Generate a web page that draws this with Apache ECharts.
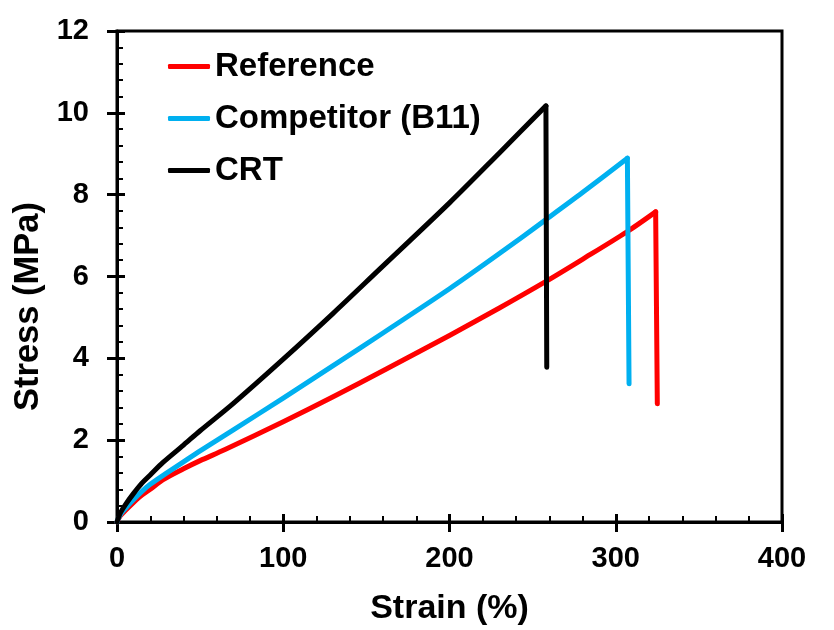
<!DOCTYPE html>
<html>
<head>
<meta charset="utf-8">
<script src="https://cdn.jsdelivr.net/npm/echarts@6/dist/echarts.min.js"></script>
<style>
html,body{margin:0;padding:0;background:#fff;}
#chart{width:834px;height:630px;}
</style>
</head>
<body>
<div id="chart"></div>
<script>
// ---- data ----
const seriesNames = ['Reference', 'Competitor (B11)', 'CRT'];
const seriesColors = ['#FF0000', '#00B0F0', '#000000'];

// last point of each curve = bottom of the fracture drop
const refStrain = [0, 2, 5, 10, 15, 20, 27.5, 40, 50, 65, 100, 130, 162, 200, 230, 258, 280, 307, 324, 325];
const refStress = [0, 0.15, 0.28, 0.48, 0.66, 0.8, 1.03, 1.3, 1.5, 1.77, 2.45, 3.06, 3.74, 4.56, 5.23, 5.88, 6.42, 7.1, 7.58, 2.89];

const compStrain = [0, 2, 5, 10, 15, 20, 30, 40, 50, 70, 100, 130, 160, 200, 230, 258, 280, 307, 308];
const compStress = [0, 0.18, 0.33, 0.55, 0.75, 0.92, 1.2, 1.47, 1.74, 2.25, 3.03, 3.82, 4.62, 5.7, 6.56, 7.39, 8.05, 8.89, 3.38];

const crtStrain = [0, 2, 5, 10, 15, 20, 27.5, 40, 50, 70, 100, 130, 158, 200, 230, 258, 258.5];
const crtStress = [0, 0.22, 0.42, 0.7, 0.95, 1.15, 1.45, 1.88, 2.23, 2.9, 3.98, 5.1, 6.18, 7.8, 9.02, 10.17, 3.78];

const xTicks = {min: 0, max: 400, interval: 100};
const yTicks = {min: 0, max: 12, interval: 2};

function pairs(xs, ys) { return xs.map((x, i) => [x, ys[i]]); }
const allData = [pairs(refStrain, refStress), pairs(compStrain, compStress), pairs(crtStrain, crtStress)];

const FONT = '"Liberation Sans", Arial, sans-serif';
const chart = echarts.init(document.getElementById('chart'), null, {renderer: 'canvas'});

const axisLineStyle = {show: true, lineStyle: {color: '#000', width: 3}};

const series = [];
allData.forEach((d, i) => {
  const n = d.length;
  // loading curve (smooth)
  series.push({
    name: seriesNames[i], type: 'line', data: d.slice(0, n - 1),
    xAxisIndex: 0, yAxisIndex: 0, showSymbol: false, symbol: 'none',
    smooth: 0.3, color: seriesColors[i],
    lineStyle: {color: seriesColors[i], width: 5, cap: 'round', join: 'round'},
    z: 2 + i
  });
  // fracture drop (straight)
  series.push({
    name: seriesNames[i], type: 'line', data: d.slice(n - 2),
    xAxisIndex: 0, yAxisIndex: 0, showSymbol: false, symbol: 'none',
    smooth: false, color: seriesColors[i],
    lineStyle: {color: seriesColors[i], width: 5, cap: 'round', join: 'round'},
    z: 2 + i
  });
});

const option = {
  animation: false,
  backgroundColor: '#fff',
  grid: {left: 117, right: 52, top: 31, bottom: 108, show: true, borderColor: '#000', borderWidth: 3,
         backgroundColor: 'transparent', outerBoundsMode: 'none', containLabel: false},
  legend: {
    show: true, orient: 'vertical', left: 163, top: 45,
    itemWidth: 42, itemHeight: 5, itemGap: 19, icon: 'roundRect',
    data: seriesNames,
    textStyle: {fontFamily: FONT, fontWeight: 'bold', fontSize: 33, color: '#000', lineHeight: 32}
  },
  xAxis: [
    {
      type: 'value', min: xTicks.min, max: xTicks.max, interval: xTicks.interval,
      axisLine: axisLineStyle,
      axisTick: {show: true, inside: true, length: 8, lineStyle: {color: '#000', width: 3}},
      minorTick: {show: true, splitNumber: 5, length: 6, lineStyle: {color: '#000', width: 2}},
      splitLine: {show: false},
      axisLabel: {fontFamily: FONT, fontWeight: 'bold', fontSize: 29, color: '#000', margin: 22},
      name: 'Strain (%)', nameLocation: 'middle', nameGap: 70,
      nameTextStyle: {fontFamily: FONT, fontWeight: 'bold', fontSize: 34, color: '#000'}
    },
    {
      type: 'value', min: xTicks.min, max: xTicks.max, interval: xTicks.interval, position: 'bottom',
      axisLine: {show: false},
      axisTick: {show: true, inside: false, length: 10, lineStyle: {color: '#000', width: 3}},
      axisLabel: {show: false}, splitLine: {show: false}
    }
  ],
  yAxis: [
    {
      type: 'value', min: yTicks.min, max: yTicks.max, interval: yTicks.interval,
      axisLine: axisLineStyle,
      axisTick: {show: true, inside: true, length: 8, lineStyle: {color: '#000', width: 3}},
      minorTick: {show: true, splitNumber: 5, length: 6, lineStyle: {color: '#000', width: 2}},
      splitLine: {show: false},
      axisLabel: {fontFamily: FONT, fontWeight: 'bold', fontSize: 29, color: '#000', margin: 28},
      name: 'Stress (MPa)', nameLocation: 'middle', nameGap: 61, nameRotate: 90,
      nameTextStyle: {fontFamily: FONT, fontWeight: 'bold', fontSize: 34.5, color: '#000', padding: [0, 60, 0, 0]}
    },
    {
      type: 'value', min: yTicks.min, max: yTicks.max, interval: yTicks.interval, position: 'left',
      axisLine: {show: false},
      axisTick: {show: true, inside: false, length: 10, lineStyle: {color: '#000', width: 3}},
      axisLabel: {show: false}, splitLine: {show: false}
    }
  ],
  series: series
};
chart.setOption(option);
</script>
</body>
</html>
